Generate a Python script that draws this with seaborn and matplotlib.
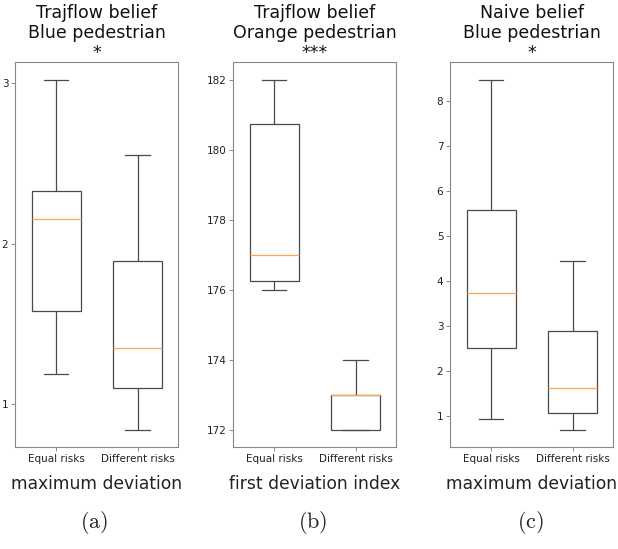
import matplotlib
matplotlib.use("Agg")
import matplotlib.pyplot as plt
import seaborn as sns
import pandas as pd

# ---- data (five-number summaries: min, Q1, median, Q3, max) ----
groups = ["Equal risks", "Different risks"]

a_equal = [1.19, 1.58, 2.15, 2.33, 3.02]
a_diff = [0.84, 1.10, 1.35, 1.89, 2.55]

b_equal = [176.0, 176.25, 177.0, 180.75, 182.0]
b_diff = [172.0, 172.0, 173.0, 173.0, 174.0]

c_equal = [0.93, 2.51, 3.73, 5.57, 8.47]
c_diff = [0.70, 1.07, 1.62, 2.89, 4.45]

titles = ["Trajflow belief\nBlue pedestrian\n*",
          "Trajflow belief\nOrange pedestrian\n***",
          "Naive belief\nBlue pedestrian\n*"]
xlabels = ["maximum deviation", "first deviation index", "maximum deviation"]
subcaps = ["(a)", "(b)", "(c)"]
yticks_a = [1, 2, 3]
yticks_b = [172, 174, 176, 178, 180, 182]
yticks_c = [1, 2, 3, 4, 5, 6, 7, 8]

panels = [(a_equal, a_diff, yticks_a),
          (b_equal, b_diff, yticks_b),
          (c_equal, c_diff, yticks_c)]

plt.rcParams["mathtext.fontset"] = "cm"

W, H = 618, 549
fig = plt.figure(figsize=(W / 100, H / 100), dpi=100)
lefts = [15.3, 233.3, 450.3]
ax_w, ax_top, ax_bot = 163.0, 62.3, 447.3
sub_x = [94, 313, 530]

line_col = "#4a4a4a"
for i, (eq, df_, yt) in enumerate(panels):
    ax = fig.add_axes([lefts[i] / W, (H - ax_bot) / H, ax_w / W, (ax_bot - ax_top) / H])
    data = pd.DataFrame({
        "group": [groups[0]] * len(eq) + [groups[1]] * len(df_),
        "value": list(eq) + list(df_),
    })
    sns.boxplot(data=data, x="group", y="value", order=groups, ax=ax,
                width=0.6, color="white", linecolor=line_col, linewidth=0.9,
                whis=1.5, showfliers=False,
                medianprops={"color": "#ffa652", "linewidth": 0.9})
    ax.set_yticks(yt)
    ax.set_yticklabels([str(v) for v in yt])
    ax.set_xlabel(xlabels[i], fontsize=12.3, labelpad=8, color="#222222")
    ax.set_ylabel("")
    ax.set_title(titles[i], fontsize=12.5, pad=3, color="#111111",
                 linespacing=1.13)
    ax.tick_params(axis="both", labelsize=7.5, length=3, width=0.6,
                   color="#777777", labelcolor="#222222", pad=2)
    for sp in ax.spines.values():
        sp.set_color("#888888")
        sp.set_linewidth(0.8)
    ax.set_facecolor("white")
    fig.text(sub_x[i] / W, 1 - 522 / H, r"$\mathrm{" + subcaps[i] + "}$",
             ha="center", va="center", fontsize=16, color="#222222")

fig.savefig("out.png", dpi=100, facecolor="white")
